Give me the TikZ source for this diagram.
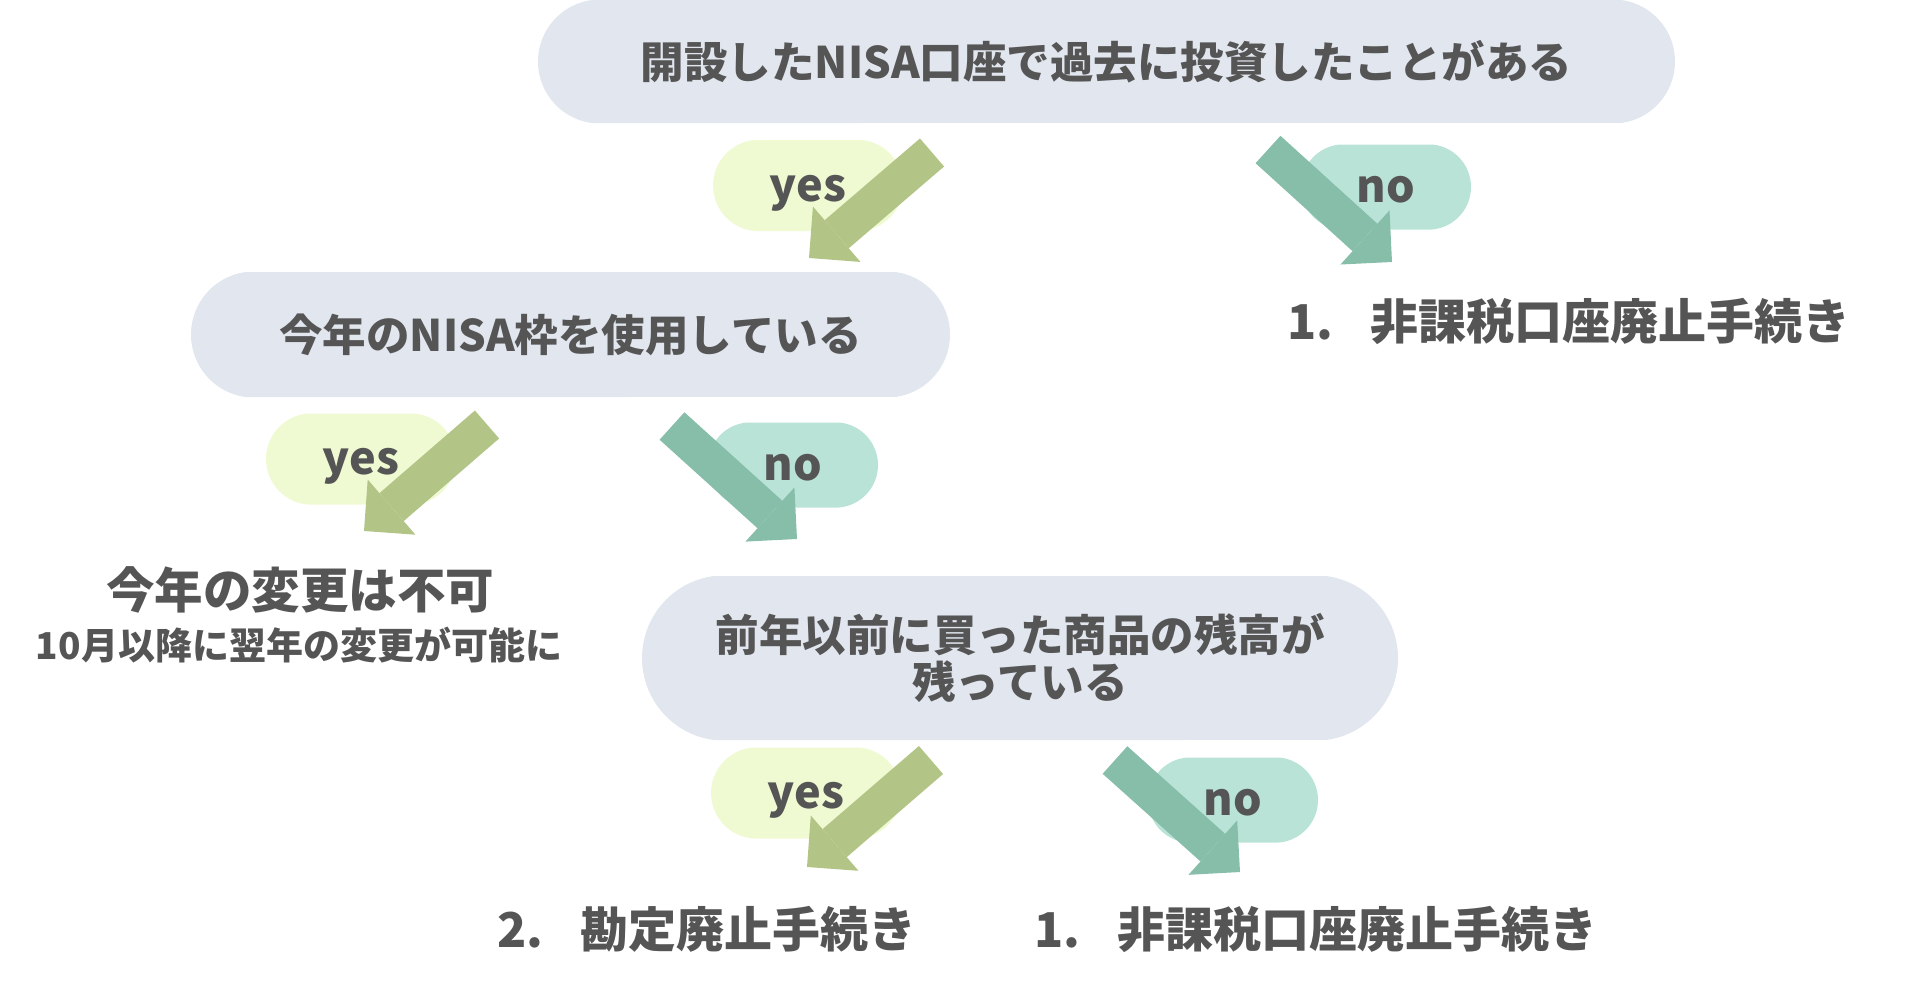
\documentclass[tikz,border=0pt]{standalone}
\usepackage{fontspec}
\setmainfont{Noto Sans CJK JP}
\usetikzlibrary{arrows.meta,shapes.misc}
\definecolor{txt}{HTML}{555555}
\definecolor{boxfill}{HTML}{E1E6EF}
\definecolor{yesfill}{HTML}{EFFAD2}
\definecolor{yesarrow}{HTML}{B3C586}
\definecolor{nofill}{HTML}{B9E3D6}
\definecolor{noarrow}{HTML}{86BEAA}
\tikzset{
  qbox/.style={rounded rectangle, rounded rectangle arc length=165, fill=boxfill, inner sep=0pt,
    text=txt, font=\fontsize{43.5}{47}\selectfont\bfseries, align=center},
  bubble/.style={rounded rectangle, rounded rectangle arc length=170, inner sep=0pt, text=txt,
    font=\fontsize{45}{45}\selectfont\bfseries, text height=31pt, text depth=0pt},
  yesbubble/.style={bubble, fill=yesfill, minimum width=190pt, minimum height=91pt},
  nobubble/.style={bubble, fill=nofill, minimum width=170pt, minimum height=85pt},
  yesarr/.style={draw=yesarrow, line width=37pt, -{Triangle[width=73pt,length=36.5pt,line width=0pt]}},
  noarr/.style={draw=noarrow, line width=37pt, -{Triangle[width=73pt,length=36.5pt,line width=0pt]}},
  result/.style={text=txt, font=\fontsize{48}{50}\selectfont\bfseries, inner sep=0pt},
  note/.style={text=txt, font=\fontsize{37}{40}\selectfont\bfseries, inner sep=0pt}
}
\begin{document}
\begin{tikzpicture}[x=1pt,y=-1pt]
\useasboundingbox (0,0) rectangle (1920,988);
% question boxes
\node[qbox, minimum width=1137pt, minimum height=123pt] (q1) at (1106.5,61.5) {開設したNISA口座で過去に投資したことがある};
\node[qbox, minimum width=759pt, minimum height=125pt] (q2) at (570.5,334.5) {今年のNISA枠を使用している};
\node[qbox, minimum width=756pt, minimum height=164pt] (q3) at (1020,658) {前年以前に買った商品の残高が\\残っている};
% bubbles
\node[yesbubble] (y1) at (808,185.5) {yes};
\node[nobubble] (n1) at (1386,187) {no};
\node[yesbubble] (y2) at (361,459) {yes};
\node[nobubble] (n2) at (793,465) {no};
\node[yesbubble] (y3) at (806,793) {yes};
\node[nobubble] (n3) at (1233,800) {no};
% arrow ends
\coordinate (a1s) at (932,152.5);  \coordinate (a1e) at (809,258);
\coordinate (a2s) at (1268,149.5); \coordinate (a2e) at (1392,262);
\coordinate (a3s) at (487,424.5);  \coordinate (a3e) at (364,531);
\coordinate (a4s) at (672,426);    \coordinate (a4e) at (797,539);
\coordinate (a5s) at (931,760);    \coordinate (a5e) at (807,867);
\coordinate (a6s) at (1115,760);   \coordinate (a6e) at (1240,872);
\draw[yesarr] (a1s) -- (a1e);
\draw[noarr]  (a2s) -- (a2e);
\draw[yesarr] (a3s) -- (a3e);
\draw[noarr]  (a4s) -- (a4e);
\draw[yesarr] (a5s) -- (a5e);
\draw[noarr]  (a6s) -- (a6e);
% results
\node[result] (r1) at (1569,321) {1.\hspace{0.78em}非課税口座廃止手続き};
\node[result, font=\fontsize{48.5}{50}\selectfont\bfseries] (r2) at (300,590) {今年の変更は不可};
\node[note] (r2b) at (299,645) {10月以降に翌年の変更が可能に};
\node[result] (r3) at (707,929) {2.\hspace{0.78em}勘定廃止手続き};
\node[result] (r4) at (1316,929) {1.\hspace{0.78em}非課税口座廃止手続き};
\end{tikzpicture}
\end{document}
